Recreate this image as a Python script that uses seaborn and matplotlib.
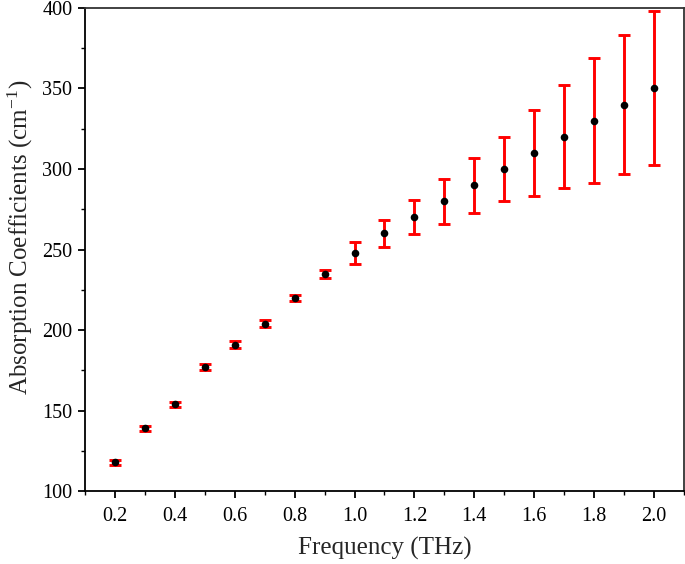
import matplotlib
matplotlib.use("Agg")
import matplotlib.pyplot as plt
from matplotlib.ticker import MultipleLocator
import seaborn as sns
import pandas as pd

freq = [0.2, 0.3, 0.4, 0.5, 0.6, 0.7, 0.8, 0.9, 1.0, 1.1, 1.2, 1.3, 1.4, 1.5, 1.6, 1.7, 1.8, 1.9, 2.0]
absorption = [118, 139, 154, 177, 191, 204, 220, 235, 248, 260, 270, 280, 290, 300, 310, 320, 330, 340, 350]
error = [1.5, 1.5, 1.5, 2, 2, 2, 2, 2.5, 7, 8.2, 10.5, 14, 17, 20, 26.6, 32, 38.7, 43.4, 47.8]
xtick_labels = ["0.2", "0.4", "0.6", "0.8", "1.0", "1.2", "1.4", "1.6", "1.8", "2.0"]

df = pd.DataFrame({"freq": freq, "absorption": absorption, "error": error})

sns.set_theme(style="ticks")
plt.rcParams["font.family"] = ["Liberation Serif", "DejaVu Serif"]
plt.rcParams["mathtext.fontset"] = "stix"

fig = plt.figure(figsize=(6.85, 5.64), dpi=100)
ax = fig.add_axes([0.124, 0.129, 0.8745, 0.857])

ax.errorbar(df["freq"], df["absorption"], yerr=df["error"], fmt="none",
            ecolor="#ff0000", elinewidth=2.1, capsize=4.5, capthick=2.1, zorder=2)
sns.scatterplot(data=df, x="freq", y="absorption", ax=ax, color="black",
                s=30, edgecolor="black", linewidth=0, zorder=3)

ax.set_xlim(0.1, 2.1)
ax.set_ylim(100, 400)
ax.xaxis.set_minor_locator(MultipleLocator(0.1))
ax.yaxis.set_major_locator(MultipleLocator(50))
ax.yaxis.set_minor_locator(MultipleLocator(25))
ax.set_xticks([float(t) for t in xtick_labels])
ax.set_xticklabels(xtick_labels)

ax.tick_params(axis="both", which="major", direction="out", length=5, width=1.3,
               labelsize=14.5, color="black", labelcolor="black", pad=4)
ax.tick_params(axis="x", which="major", pad=6)
ax.tick_params(axis="both", which="minor", direction="out", length=3, width=1.0, color="black")

for side in ["left", "bottom"]:
    ax.spines[side].set_linewidth(1.3)
    ax.spines[side].set_color("black")
for side in ["top", "right"]:
    ax.spines[side].set_visible(True)
    ax.spines[side].set_linewidth(1.3)
    ax.spines[side].set_color("#333333")

ax.set_xlabel("Frequency (THz)", fontsize=18, labelpad=8)
ax.set_ylabel(r"Absorption Coefficients (cm$^{\mathregular{-1}}$)", fontsize=18)
ax.yaxis.set_label_coords(-0.083, 0.525)

fig.savefig("out.png", dpi=100)
